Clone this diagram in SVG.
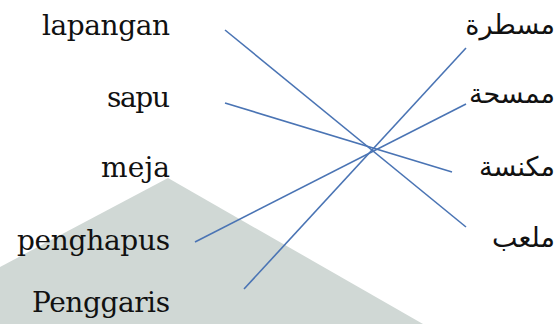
<svg xmlns="http://www.w3.org/2000/svg" width="559" height="324" viewBox="0 0 559 324">
<style>
.lt{font-family:'DejaVu Serif',serif;font-size:28px;fill:#111;text-anchor:end}
.ar{font-family:'DejaVu Sans',sans-serif;font-size:27px;fill:#111;text-anchor:end}
.c{stroke:#4a74b4;stroke-width:1.6;fill:none}
</style>
<polygon id="shape" points="0,267 168,178 423,324 0,324" fill="#d0d8d5"/>
<g id="left">
<g id="n-lapangan"><text class="lt" x="170" y="35" textLength="128">lapangan</text></g>
<g id="n-sapu"><text class="lt" x="170" y="107" textLength="63">sapu</text></g>
<g id="n-meja"><text class="lt" x="170" y="177" textLength="69">meja</text></g>
<g id="n-penghapus"><text class="lt" x="170" y="250" textLength="153">penghapus</text></g>
<g id="n-penggaris"><text class="lt" x="170" y="312" textLength="138">Penggaris</text></g>
</g>
<g id="right">
<g id="n-mistara"><text class="ar" x="555" y="34">مسطرة</text></g>
<g id="n-mimsaha"><text class="ar" x="555" y="103">ممسحة</text></g>
<g id="n-miknasa"><text class="ar" x="555" y="176">مكنسة</text></g>
<g id="n-malab"><text class="ar" x="555" y="247">ملعب</text></g>
</g>
<g id="connectors">
<line class="c" x1="225" y1="30" x2="466" y2="227"/>
<line class="c" x1="225" y1="103" x2="452" y2="172"/>
<line class="c" x1="195" y1="242" x2="466" y2="104"/>
<line class="c" x1="244" y1="289" x2="466" y2="48"/>
</g>
</svg>
